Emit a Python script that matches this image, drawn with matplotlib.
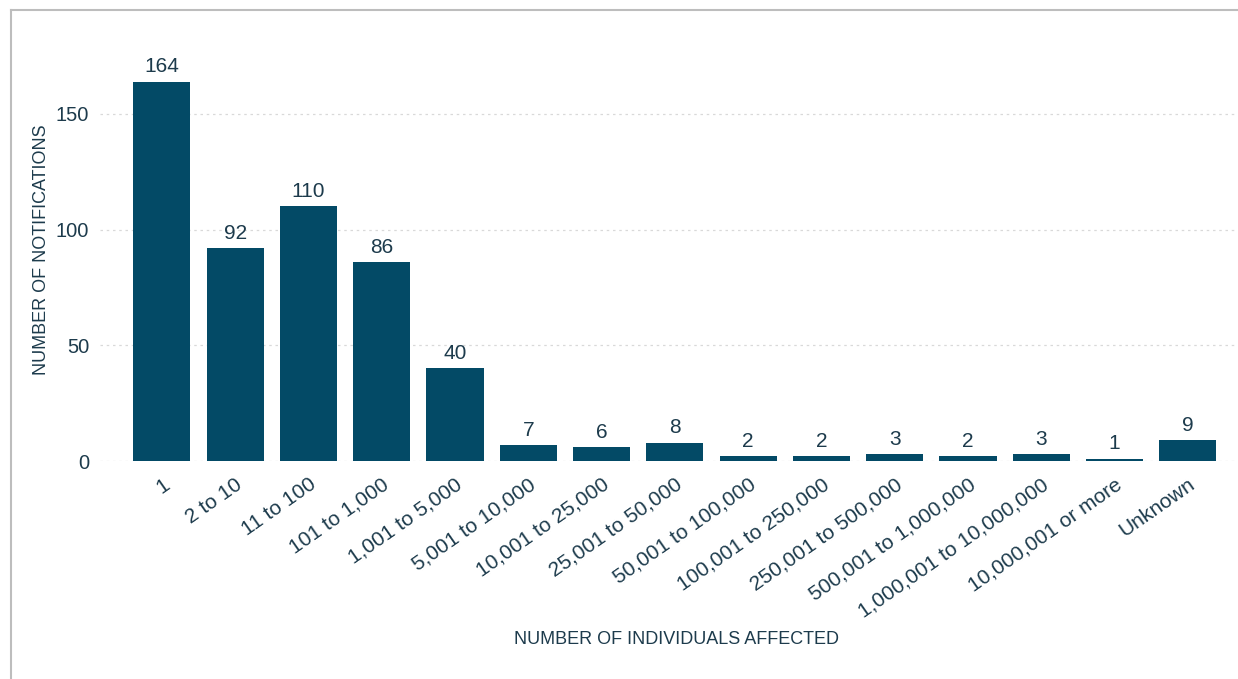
import matplotlib
matplotlib.use('Agg')
from matplotlib import pyplot as plt
from matplotlib.lines import Line2D

# categories and counts
categories = ['1', '2 to 10', '11 to 100', '101 to 1,000', '1,001 to 5,000',
              '5,001 to 10,000', '10,001 to 25,000', '25,001 to 50,000',
              '50,001 to 100,000', '100,001 to 250,000', '250,001 to 500,000',
              '500,001 to 1,000,000', '1,000,001 to 10,000,000',
              '10,000,001 or more', 'Unknown']
notifications = [164, 92, 110, 86, 40, 7, 6, 8, 2, 2, 3, 2, 3, 1, 9]
yticks = [0, 50, 100, 150]

bar_color = '#034a66'
text_color = '#1d3b4c'
plt.rcParams['font.family'] = ['Liberation Sans', 'DejaVu Sans']

fig = plt.figure(figsize=(12.38, 6.79), dpi=100)
ax = fig.add_axes([0.081, 0.321, 0.917, 0.591])

x = range(len(categories))
bars = ax.bar(x, notifications, width=0.78, color=bar_color, zorder=3)
for b, v in zip(bars, notifications):
    ax.text(b.get_x() + b.get_width() / 2, v + 2.3, str(v), ha='center', va='bottom',
            fontsize=15, color=text_color)

ax.set_xlim(-0.84, 14.65)
ax.set_ylim(0, 173.4)
ax.set_yticks(yticks)
ax.set_yticklabels([str(t) for t in yticks], fontsize=14.5, color=text_color)
ax.set_xticks(list(x))
ax.set_xticklabels(categories, rotation=35, ha='right', rotation_mode='anchor',
                   fontsize=15, color=text_color)
ax.tick_params(axis='both', length=0)
ax.tick_params(axis='x', pad=10)
ax.tick_params(axis='y', pad=8)
ax.grid(axis='y', color='#d9d9d9', linestyle=(0, (2, 3)), linewidth=0.9, zorder=0)
for s in ax.spines.values():
    s.set_visible(False)

fig.text(42 / 1238, 1 - 250 / 679, 'NUMBER OF NOTIFICATIONS', rotation=90,
         ha='center', va='center', fontsize=13, color=text_color)
fig.text(676 / 1238, 1 - 640 / 679, 'NUMBER OF INDIVIDUALS AFFECTED', ha='center',
         va='center', fontsize=13, color=text_color)

# outer frame on the left and top
x0 = 11 / 1238
y0 = 1 - 10 / 679
fig.add_artist(Line2D([x0, x0], [0, y0], transform=fig.transFigure, color='#bdbdbd', lw=1.5))
fig.add_artist(Line2D([x0, 1], [y0, y0], transform=fig.transFigure, color='#bdbdbd', lw=1.5))

plt.savefig('out.png', dpi=100)
